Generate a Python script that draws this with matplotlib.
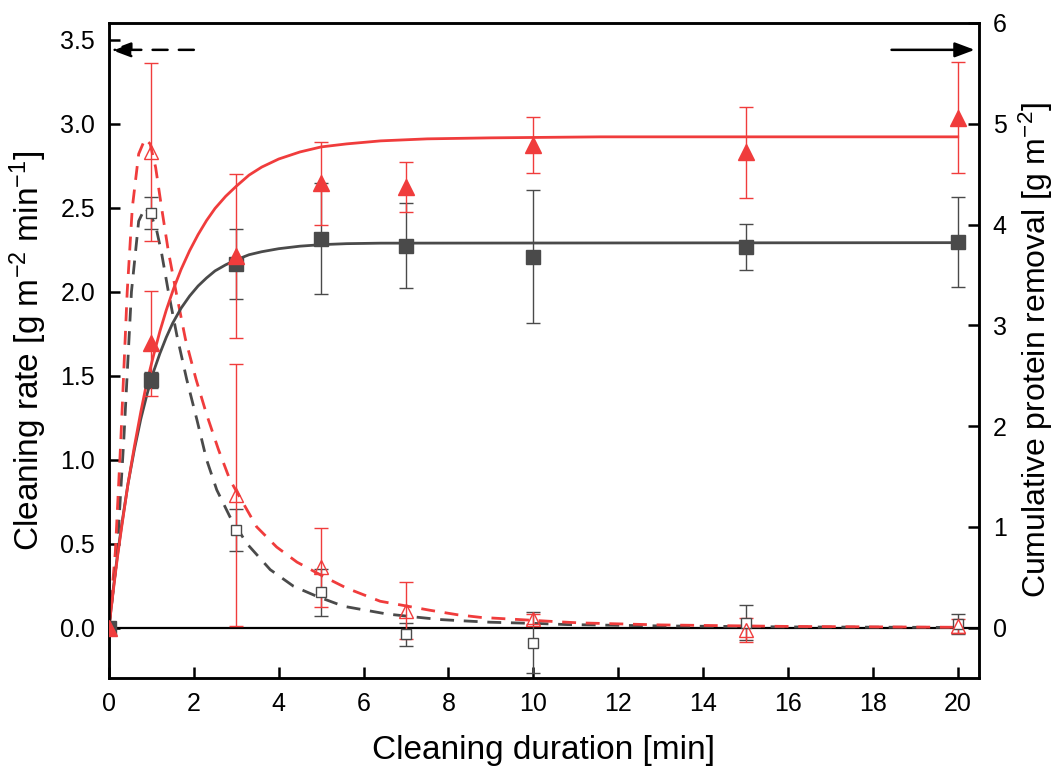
import matplotlib
matplotlib.use('Agg')
import matplotlib.pyplot as plt

plt.rcParams['font.family'] = ['Liberation Sans', 'DejaVu Sans']
plt.rcParams['mathtext.fontset'] = 'custom'
plt.rcParams['mathtext.rm'] = 'Liberation Sans'
plt.rcParams['mathtext.it'] = 'Liberation Sans:italic'

GREY = '#4a4a4a'
RED = '#f03c3c'

# measurement times [min]
t = [0, 1, 3, 5, 7, 10, 15, 20]

# cleaning rate (left axis), open markers
rate_sq = [0, 2.47, 0.58, 0.21, -0.04, -0.09, 0.03, 0.02]
rate_sq_err = [0, 0.095, 0.125, 0.14, 0.07, 0.18, 0.105, 0.06]
rate_tri = [0, 2.83, 0.79, 0.36, 0.10, 0.05, -0.015, 0.01]
rate_tri_err = [0, 0.53, 0.78, 0.235, 0.17, 0.03, 0.07, 0.04]

# cumulative removal (right axis), filled markers
cum_sq = [0, 2.455, 3.61, 3.86, 3.79, 3.68, 3.78, 3.825]
cum_sq_err = [0, 0.08, 0.345, 0.55, 0.42, 0.66, 0.23, 0.445]
cum_tri = [0, 2.82, 3.685, 4.41, 4.37, 4.79, 4.715, 5.06]
cum_tri_err = [0, 0.52, 0.815, 0.41, 0.25, 0.28, 0.455, 0.55]

# fitted curves
rate_fit_grey_x = [0, 0.18, 0.35, 0.53, 0.7, 0.85, 1.0, 1.12, 1.24, 1.4, 1.6, 1.83, 2.07, 2.3, 2.54,
                   2.85, 3.25, 3.8, 4.35, 4.9, 5.53, 6.55, 7.18, 7.8, 8.36, 8.99, 10.16, 10.8, 13, 16, 20]
rate_fit_grey_y = [0, 0.40, 1.12, 2.0, 2.42, 2.5, 2.45, 2.37, 2.23, 2.0, 1.74, 1.48, 1.24, 1.0, 0.82,
                   0.66, 0.50, 0.345, 0.246, 0.186, 0.127, 0.081, 0.064, 0.048, 0.040, 0.032, 0.024, 0.018,
                   0.010, 0.004, 0.001]
rate_fit_red_x = [0, 0.15, 0.28, 0.43, 0.55, 0.7, 0.85, 0.97, 1.1, 1.24, 1.4, 1.58, 1.8, 2.05, 2.3, 2.58,
                  2.85, 3.48, 3.95, 4.43, 5.05, 5.6, 6.39, 7.57, 8.2, 8.75, 9.38, 10.64, 11.1, 13, 16, 20]
rate_fit_red_y = [0, 0.45, 1.12, 2.0, 2.5, 2.82, 2.91, 2.88, 2.74, 2.5, 2.24, 2.0, 1.72, 1.48, 1.27, 1.06,
                  0.88, 0.60, 0.48, 0.39, 0.305, 0.235, 0.157, 0.103, 0.077, 0.061, 0.052, 0.034, 0.028,
                  0.016, 0.007, 0.002]

cum_fit_grey_x = [0, 0.1, 0.2, 0.3, 0.45, 0.6, 0.75, 0.9, 1.05, 1.2, 1.35, 1.5, 1.7, 1.9, 2.1, 2.3, 2.5,
                  2.75, 3.0, 3.3, 3.6, 4.0, 4.5, 5.0, 5.6, 6.4, 20]
cum_fit_grey_y = [0, 0.38, 0.72, 1.02, 1.43, 1.77, 2.07, 2.32, 2.54, 2.72, 2.88, 3.02, 3.17, 3.29, 3.39,
                  3.47, 3.54, 3.60, 3.65, 3.70, 3.73, 3.76, 3.785, 3.80, 3.81, 3.815, 3.82]
cum_fit_red_x = [0, 0.1, 0.2, 0.3, 0.45, 0.6, 0.75, 0.89, 1.05, 1.2, 1.35, 1.52, 1.7, 1.9, 2.1, 2.3, 2.5,
                 2.75, 3.0, 3.3, 3.6, 4.0, 4.5, 5.0, 5.6, 6.4, 7.5, 9.0, 11.6, 20]
cum_fit_red_y = [0, 0.36, 0.70, 1.00, 1.43, 1.80, 2.14, 2.43, 2.70, 2.94, 3.15, 3.36, 3.555, 3.74, 3.90,
                 4.04, 4.16, 4.28, 4.38, 4.49, 4.57, 4.65, 4.72, 4.77, 4.80, 4.83, 4.85, 4.86, 4.87, 4.87]

fig = plt.figure(figsize=(10.62, 7.76), dpi=100)
ax = fig.add_axes([0.1026, 0.1263, 0.8192, 0.8441])
ax2 = ax.twinx()

# rate, left axis
ax.axhline(0, color='black', lw=1.6, zorder=1)
ax.plot(rate_fit_grey_x, rate_fit_grey_y, color=GREY, lw=2, ls=(0, (5, 3.5)), zorder=2)
ax.plot(rate_fit_red_x, rate_fit_red_y, color=RED, lw=2, ls=(0, (5, 3.5)), zorder=2)
ax.errorbar(t, rate_sq, yerr=rate_sq_err, fmt='s', ms=7, mfc='white', mec=GREY, mew=1.0,
            ecolor=GREY, elinewidth=1.0, capsize=5, capthick=1.0, zorder=3)
ax.errorbar(t, rate_tri, yerr=rate_tri_err, fmt='^', ms=10, mfc='none', mec=RED, mew=1.0,
            ecolor=RED, elinewidth=1.0, capsize=5, capthick=1.0, zorder=3)

# cumulative, right axis
ax2.plot(cum_fit_grey_x, cum_fit_grey_y, color=GREY, lw=2, zorder=2)
ax2.plot(cum_fit_red_x, cum_fit_red_y, color=RED, lw=2, zorder=2)
ax2.errorbar(t, cum_sq, yerr=cum_sq_err, fmt='s', ms=10, color=GREY,
             ecolor=GREY, elinewidth=1.0, capsize=5, capthick=1.0, zorder=3)
ax2.errorbar(t, cum_tri, yerr=cum_tri_err, fmt='^', ms=12, color=RED,
             ecolor=RED, elinewidth=1.0, capsize=5, capthick=1.0, zorder=3)

# axis indicator arrows
ax.annotate('', xy=(0.05, 3.44), xytext=(2.0, 3.44),
            arrowprops=dict(arrowstyle='-|>,head_length=1.2,head_width=0.45', color='black',
                            lw=1.8, ls=(0, (6, 4.5)), shrinkA=0, shrinkB=0))
ax.annotate('', xy=(20.4, 3.44), xytext=(18.44, 3.44),
            arrowprops=dict(arrowstyle='-|>,head_length=1.2,head_width=0.45', color='black',
                            lw=1.8, shrinkA=0, shrinkB=0))

ax.set_xlim(0, 20.5)
ax.set_ylim(-0.3, 3.6)
ax2.set_ylim(-0.5, 6.0)
ax.set_xticks(range(0, 21, 2))
ax.set_yticks([0, 0.5, 1.0, 1.5, 2.0, 2.5, 3.0, 3.5])
ax.set_yticklabels(['0.0', '0.5', '1.0', '1.5', '2.0', '2.5', '3.0', '3.5'])
ax2.set_yticks(range(0, 7))

for a in (ax, ax2):
    for s in a.spines.values():
        s.set_linewidth(1.8)
    a.tick_params(direction='in', length=8, width=1.8, labelsize=18, pad=10)

ax.set_xlabel('Cleaning duration [min]', fontsize=24, labelpad=14)
ax.set_ylabel(r'Cleaning rate [g m$^{-2}$ min$^{-1}$]', fontsize=24, labelpad=8)
ax2.set_ylabel(r'Cumulative protein removal [g m$^{-2}$]', fontsize=23, labelpad=7)

fig.savefig('out.png', dpi=100)
